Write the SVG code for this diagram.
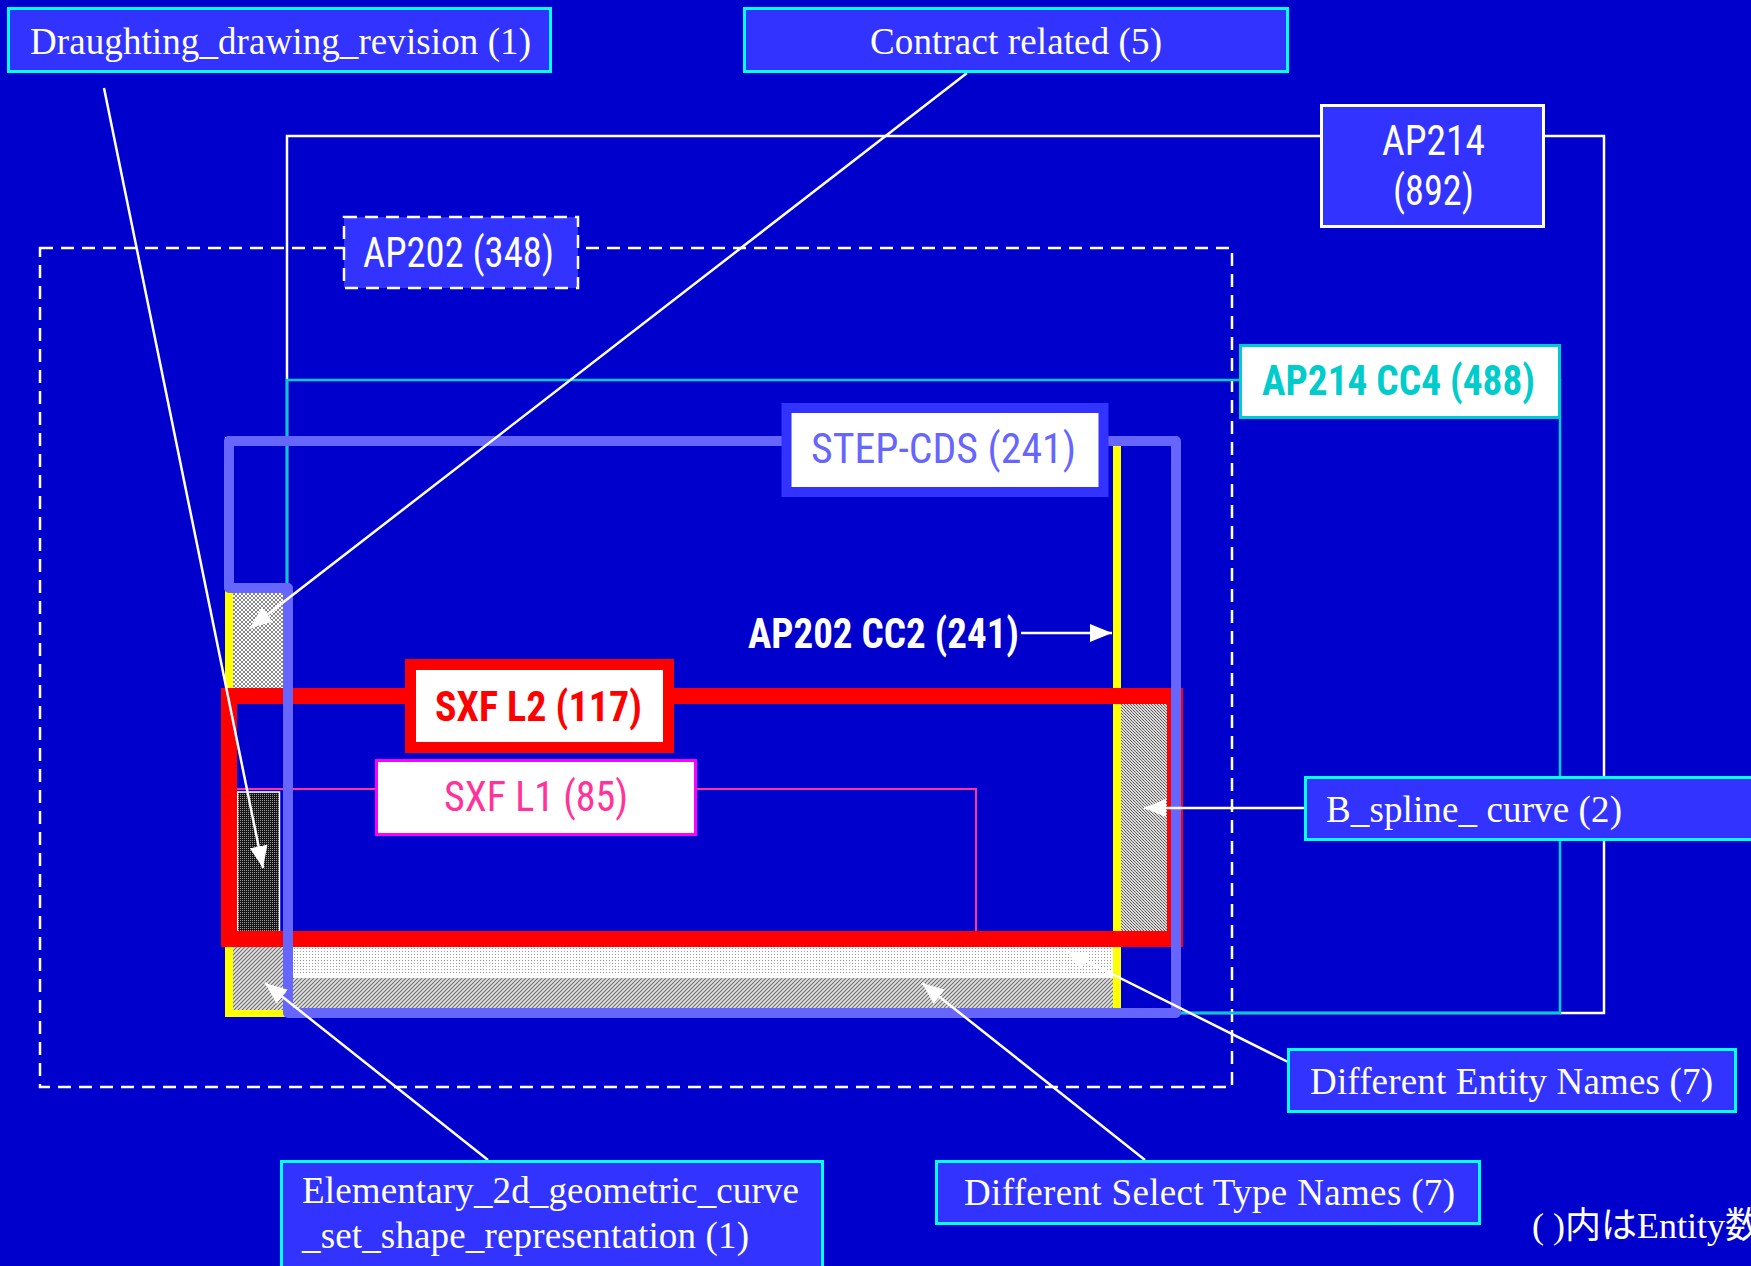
<svg xmlns="http://www.w3.org/2000/svg" width="1751" height="1266" viewBox="0 0 1751 1266">
<defs>
<style>
.lbl{fill:#3333ff;stroke:#00ffff;stroke-width:3}
.serif{font-family:'Liberation Serif','Times New Roman',serif;font-size:37px;fill:#ffffff}
.cond{font-family:'Liberation Sans Narrow','Arial Narrow','Roboto Condensed','DejaVu Sans Condensed','Liberation Sans',sans-serif;font-size:42px}
.conn{stroke:#ffffff;stroke-width:2.5;fill:none}
.frame{fill:none}
</style>
<pattern id="pCross" width="4" height="4" patternUnits="userSpaceOnUse"><rect width="4" height="4" fill="#ffffff"/><path d="M0,0L4,4M4,0L0,4" stroke="#888888" stroke-width="1"/></pattern>
<pattern id="pDark" width="2" height="2" patternUnits="userSpaceOnUse"><rect width="2" height="2" fill="#151515"/><rect width="1" height="1" fill="#9a9a9a"/></pattern>
<pattern id="pDiag" width="4" height="4" patternUnits="userSpaceOnUse"><rect width="4" height="4" fill="#e4e4e4"/><path d="M-1,1L1,-1M0,4L4,0M3,5L5,3" stroke="#707070" stroke-width="1.2"/></pattern>
<pattern id="pDots" width="3" height="3" patternUnits="userSpaceOnUse"><rect width="3" height="3" fill="#ffffff"/><rect width="1" height="1" fill="#999999"/></pattern>
<pattern id="pMid" width="3" height="3" patternUnits="userSpaceOnUse"><rect width="3" height="3" fill="#dcdcdc"/><rect width="1" height="1" fill="#555555"/><rect x="1" y="1" width="1" height="1" fill="#777777"/><rect x="2" y="2" width="1" height="1" fill="#555555"/></pattern>
<marker id="arr" viewBox="0 0 22 18" refX="22" refY="9" markerWidth="22" markerHeight="18" orient="auto" markerUnits="userSpaceOnUse"><path d="M0,0 L22,9 L0,18 z" fill="#ffffff"/></marker>
</defs>
<rect width="1751" height="1266" fill="#0000cc"/>

<g id="regions">
  <rect id="ap202-region" x="40" y="248" width="1192" height="839" class="frame" stroke="#ffffff" stroke-width="2.5" stroke-dasharray="13 8"/>
  <rect id="ap214-region" x="287" y="136" width="1317" height="877" class="frame" stroke="#ffffff" stroke-width="2.5"/>
  <rect id="ap214cc4-region" x="287" y="380" width="1273" height="633" class="frame" stroke="#00cccc" stroke-width="2.5"/>
  <rect id="ap202cc2-region" x="229" y="441" width="888" height="572" class="frame" stroke="#ffff00" stroke-width="8"/>
  <rect x="233" y="593" width="50" height="95" fill="url(#pCross)"/>
  <rect x="233" y="947" width="50" height="63" fill="url(#pDiag)"/>
  <rect x="293" y="947" width="820" height="28" fill="url(#pDots)"/>
  <rect x="293" y="975" width="820" height="3" fill="#ffffff"/>
  <rect x="293" y="978" width="820" height="30" fill="url(#pDiag)"/>
  <rect x="1121" y="704" width="48" height="227" fill="url(#pMid)"/>
  <rect id="sxfl1-region" x="229" y="789" width="747" height="150" class="frame" stroke="#ff3399" stroke-width="2"/>
  <rect x="237.5" y="792" width="42" height="140" fill="url(#pDark)" stroke="#ffffff" stroke-width="1.5"/>
  <rect id="sxfl2-region" x="229" y="696" width="946" height="243" class="frame" stroke="#ff0000" stroke-width="16"/>
  <path id="stepcds-region" d="M229,441 L1176,441 L1176,1013 L288,1013 L288,588 L229,588 Z" class="frame" stroke="#6666ff" stroke-width="10" stroke-linejoin="round"/>
</g>

<g id="connectors">
  <line class="conn" x1="104" y1="88" x2="263" y2="868" marker-end="url(#arr)"/>
  <line class="conn" x1="967" y1="73" x2="250" y2="628" marker-end="url(#arr)"/>
  <line class="conn" x1="1021" y1="633" x2="1112" y2="633" marker-end="url(#arr)"/>
  <line class="conn" x1="1304" y1="808" x2="1144" y2="808" marker-end="url(#arr)"/>
  <line class="conn" x1="1288" y1="1062" x2="1066" y2="951" marker-end="url(#arr)"/>
  <line class="conn" x1="1145" y1="1160" x2="922" y2="983" marker-end="url(#arr)"/>
  <line class="conn" x1="488" y1="1160" x2="265" y2="983" marker-end="url(#arr)"/>
</g>

<g id="node-draughting">
  <rect class="lbl" x="8.5" y="8.5" width="542" height="63"/>
  <text class="serif" x="30" y="54" textLength="501">Draughting_drawing_revision (1)</text>
</g>
<g id="node-contract">
  <rect class="lbl" x="744.5" y="8.5" width="543" height="63"/>
  <text class="serif" x="870" y="54" textLength="292">Contract related (5)</text>
</g>
<g id="node-ap214">
  <rect x="1321.5" y="105.5" width="222" height="121" fill="#3333ff" stroke="#ffffff" stroke-width="3"/>
  <text class="cond" x="1382" y="155" font-size="41" fill="#ffffff" textLength="103" lengthAdjust="spacingAndGlyphs">AP214</text>
  <text class="cond" x="1393" y="205" font-size="41" fill="#ffffff" textLength="81" lengthAdjust="spacingAndGlyphs">(892)</text>
</g>
<g id="node-ap202">
  <rect x="344" y="217" width="234" height="71" fill="#3333ff" stroke="#ffffff" stroke-width="2.5" stroke-dasharray="13 8"/>
  <text class="cond" x="363" y="267" fill="#ffffff" textLength="191" lengthAdjust="spacingAndGlyphs">AP202 (348)</text>
</g>
<g id="node-ap214cc4">
  <rect x="1240.5" y="345.5" width="319" height="72" fill="#ffffff" stroke="#00cccc" stroke-width="3"/>
  <text class="cond" x="1262" y="395" font-size="43" font-weight="bold" fill="#00cccc" textLength="273" lengthAdjust="spacingAndGlyphs">AP214 CC4 (488)</text>
</g>
<g id="node-stepcds">
  <rect x="786.5" y="408" width="317" height="84" fill="#ffffff" stroke="#3333ff" stroke-width="10"/>
  <text class="cond" x="811" y="463" fill="#6666ff" textLength="265" lengthAdjust="spacingAndGlyphs">STEP-CDS (241)</text>
</g>
<g id="node-ap202cc2">
  <text class="cond" x="748" y="648" font-size="41" font-weight="bold" fill="#ffffff" textLength="271" lengthAdjust="spacingAndGlyphs">AP202 CC2 (241)</text>
</g>
<g id="node-sxfl2">
  <rect x="410.5" y="664.5" width="258" height="83" fill="#ffffff" stroke="#ff0000" stroke-width="11"/>
  <text class="cond" x="435" y="721" font-size="41" font-weight="bold" fill="#ff0000" textLength="207" lengthAdjust="spacingAndGlyphs">SXF L2 (117)</text>
</g>
<g id="node-sxfl1">
  <rect x="376.5" y="760.5" width="319" height="74" fill="#ffffff" stroke="#ff00ff" stroke-width="3"/>
  <text class="cond" x="444" y="811" fill="#ff3399" textLength="184" lengthAdjust="spacingAndGlyphs">SXF L1 (85)</text>
</g>
<g id="node-bspline">
  <rect class="lbl" x="1305.5" y="777.5" width="460" height="62"/>
  <text class="serif" x="1326" y="822" textLength="296">B_spline_ curve (2)</text>
</g>
<g id="node-entity-names">
  <rect class="lbl" x="1288.5" y="1049.5" width="447" height="62"/>
  <text class="serif" x="1310" y="1094" textLength="403">Different Entity Names (7)</text>
</g>
<g id="node-select-names">
  <rect class="lbl" x="936.5" y="1161.5" width="543" height="62"/>
  <text class="serif" x="964" y="1205" textLength="491">Different Select Type Names (7)</text>
</g>
<g id="node-elementary">
  <rect class="lbl" x="281.5" y="1161.5" width="541" height="130"/>
  <text class="serif" x="302" y="1203" textLength="497">Elementary_2d_geometric_curve</text>
  <text class="serif" x="302" y="1248" textLength="447">_set_shape_representation (1)</text>
</g>
<g id="note">
  <text x="1532" y="1238" font-family="'Liberation Serif','Noto Sans CJK JP',serif" font-size="36" fill="#ffffff">( )内はEntity数</text>
</g>
</svg>
